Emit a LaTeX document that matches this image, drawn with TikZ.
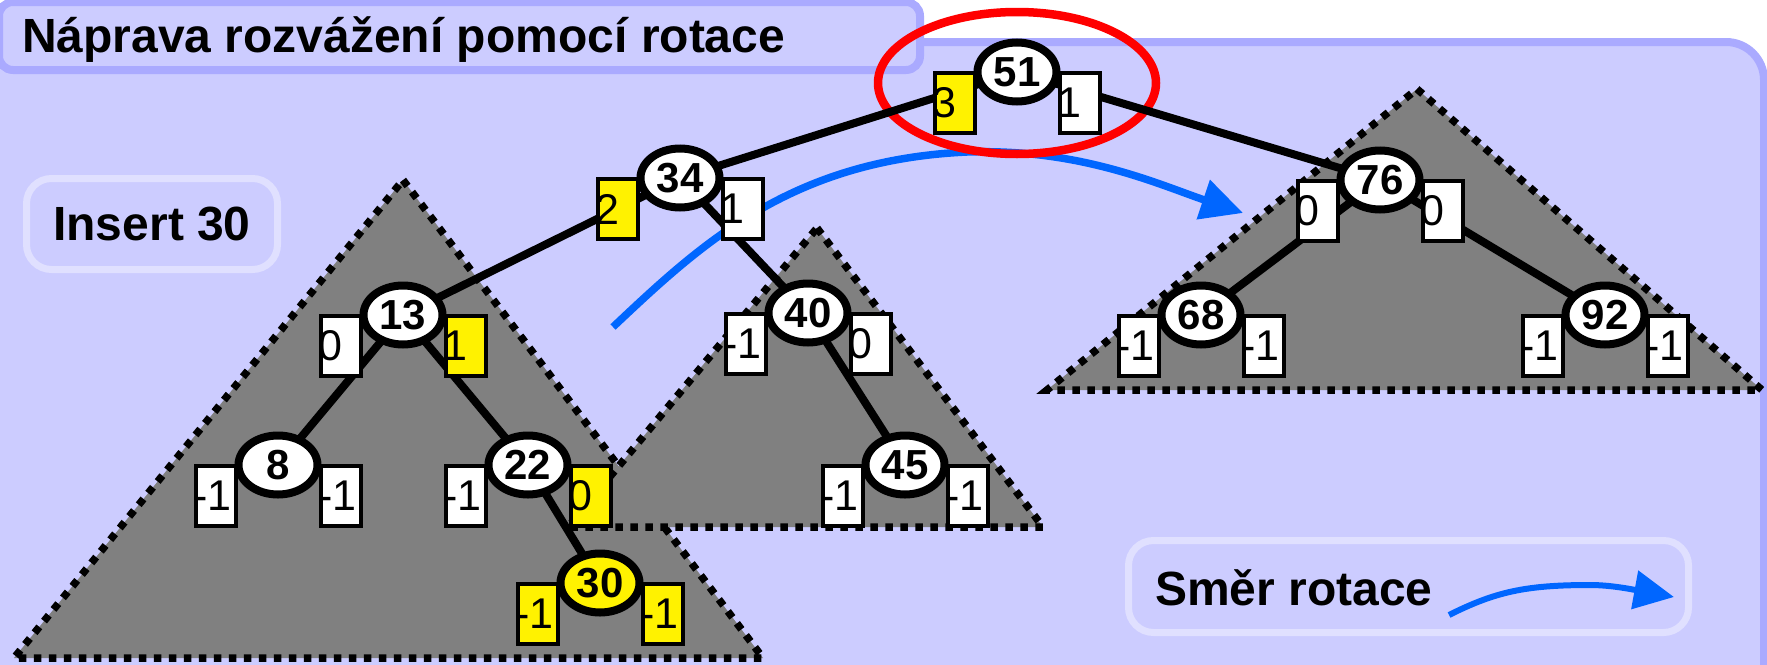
\documentclass[tikz,border=0pt]{standalone}
\usepackage{fontspec}
\setmainfont{Liberation Sans}
\usetikzlibrary{shapes.geometric,arrows.meta,calc}
\definecolor{panelfill}{HTML}{CCCCFF}
\definecolor{panelline}{HTML}{AAAAFF}
\definecolor{paleline}{HTML}{E0E0FF}
\definecolor{treegray}{HTML}{808080}
\definecolor{rotblue}{HTML}{0066FF}
\pgfdeclarelayer{panel}
\pgfdeclarelayer{trees}
\pgfdeclarelayer{links}
\pgfsetlayers{panel,trees,links,main}
\newcommand\balpair[5]{%
  \node[bal,#3] (#1L) at ($(#1)+(-62,31)$) {#2};
  \node[bal,#5] (#1R) at ($(#1)+(63,31)$) {#4};}
\begin{document}
\begin{tikzpicture}[x=1pt,y=-1pt,
  bst/.style={ellipse,draw=black,line width=8pt,fill=white,minimum width=79pt,minimum height=59pt,inner sep=0pt,font=\fontsize{42}{42}\selectfont\bfseries},
  bal/.style={rectangle,draw=black,line width=3.5pt,fill=white,text width=40pt,align=left,minimum height=60pt,inner sep=0pt,font=\fontsize{43}{43}\selectfont,execute at begin node={\hspace*{-3pt}}},
  hot/.style={fill=yellow},
  cold/.style={},
  link/.style={line width=8pt,draw=black},
  subtree/.style={fill=treegray,draw=black,line width=7.5pt,dash pattern=on 7.5pt off 7.5pt},
  bigtext/.style={font=\fontsize{48}{48}\selectfont\bfseries,inner sep=0pt},
  panelbox/.style={draw=panelline,line width=8pt,fill=panelfill},
  palebox/.style={draw=paleline,line width=7pt,fill=panelfill,rounded corners=25pt,inner sep=0pt},
  rotarrow/.style={draw=rotblue,line width=#1},
]
\useasboundingbox (0,0) rectangle (1767,664);
\begin{pgfonlayer}{panel}
  \fill[white] (0,0) rectangle (1767,664);
  \draw[panelbox,rounded corners=38pt] (-40,42) rectangle (1764,740);
  \node[panelbox,rounded corners=14pt,minimum width=921pt,minimum height=68pt,inner sep=0pt] (titlebox) at (459.5,36) {};
  \node[palebox,minimum width=251pt,minimum height=91pt,bigtext] (insert) at (152,224) {Insert 30};
  \node[palebox,minimum width=560pt,minimum height=92pt] (legend) at (1408.5,586.5) {};
\end{pgfonlayer}
\node[bigtext,anchor=base west] (title) at (22,52) {Náprava rozvážení pomocí rotace};
\node[bigtext,anchor=base west] (legendtext) at (1155,605) {Směr rotace};

\begin{pgfonlayer}{trees}
  \draw[subtree] (403,180) -- (763,658) -- (14,658) -- cycle;
  \draw[subtree] (817,228) -- (1043,527) -- (568,527) -- cycle;
  \draw[subtree] (1417,89) -- (1762,390) -- (1047,390) -- cycle;
\end{pgfonlayer}

% tree nodes
\node[bst] (n51) at (1017,72) {51};
\node[bst] (n34) at (680,178) {34};
\node[bst] (n13) at (403,315) {13};
\node[bst] (n8)  at (278,465) {8};
\node[bst] (n22) at (528,465) {22};
\node[bst,fill=yellow] (n30) at (600,583) {30};
\node[bst] (n40) at (808,313) {40};
\node[bst] (n45) at (905,465) {45};
\node[bst] (n76) at (1380,180) {76};
\node[bst] (n68) at (1201,315) {68};
\node[bst] (n92) at (1605,315) {92};

\balpair{n51}{3}{hot}{1}{cold}
\balpair{n34}{2}{hot}{1}{cold}
\balpair{n13}{0}{cold}{1}{hot}
\balpair{n8}{-1}{cold}{-1}{cold}
\balpair{n22}{-1}{cold}{0}{hot}
\balpair{n30}{-1}{hot}{-1}{hot}
\balpair{n40}{-1}{cold}{0}{cold}
\balpair{n45}{-1}{cold}{-1}{cold}
\balpair{n76}{0}{cold}{0}{cold}
\balpair{n68}{-1}{cold}{-1}{cold}
\balpair{n92}{-1}{cold}{-1}{cold}

\coordinate (rotA) at (613,327);
\coordinate (rotB) at (1243,213);
\coordinate (legA) at (1449,615);
\coordinate (legB) at (1674,597);

\begin{pgfonlayer}{links}
  \draw[rotarrow=7.5pt,-{Triangle[length=42pt,width=40pt]}] (rotA) .. controls (700,245) and (790,160) .. (967,152) .. controls (1080,148) and (1160,185) .. (rotB);
  \draw[rotarrow=6pt,-{Triangle[length=40pt,width=38pt]}] (legA) .. controls (1495,592) and (1525,585) .. (1590,585) .. controls (1610,585) and (1630,589) .. (legB);
  \draw[red,line width=8.5pt] (n51) ++(0,11) ellipse [x radius=139, y radius=71];
  \draw[link] (n51.center) -- (n34.center);
  \draw[link] (n51.center) -- (n76.center);
  \draw[link] (n34.center) -- (n13.center);
  \draw[link] (n34.center) -- (n40.center);
  \draw[link] (n13.center) -- (n8.center);
  \draw[link] (n13.center) -- (n22.center);
  \draw[link] (n22.center) -- (n30.center);
  \draw[link] (n40.center) -- (n45.center);
  \draw[link] (n76.center) -- (n68.center);
  \draw[link] (n76.center) -- (n92.center);
\end{pgfonlayer}
\end{tikzpicture}
\end{document}
